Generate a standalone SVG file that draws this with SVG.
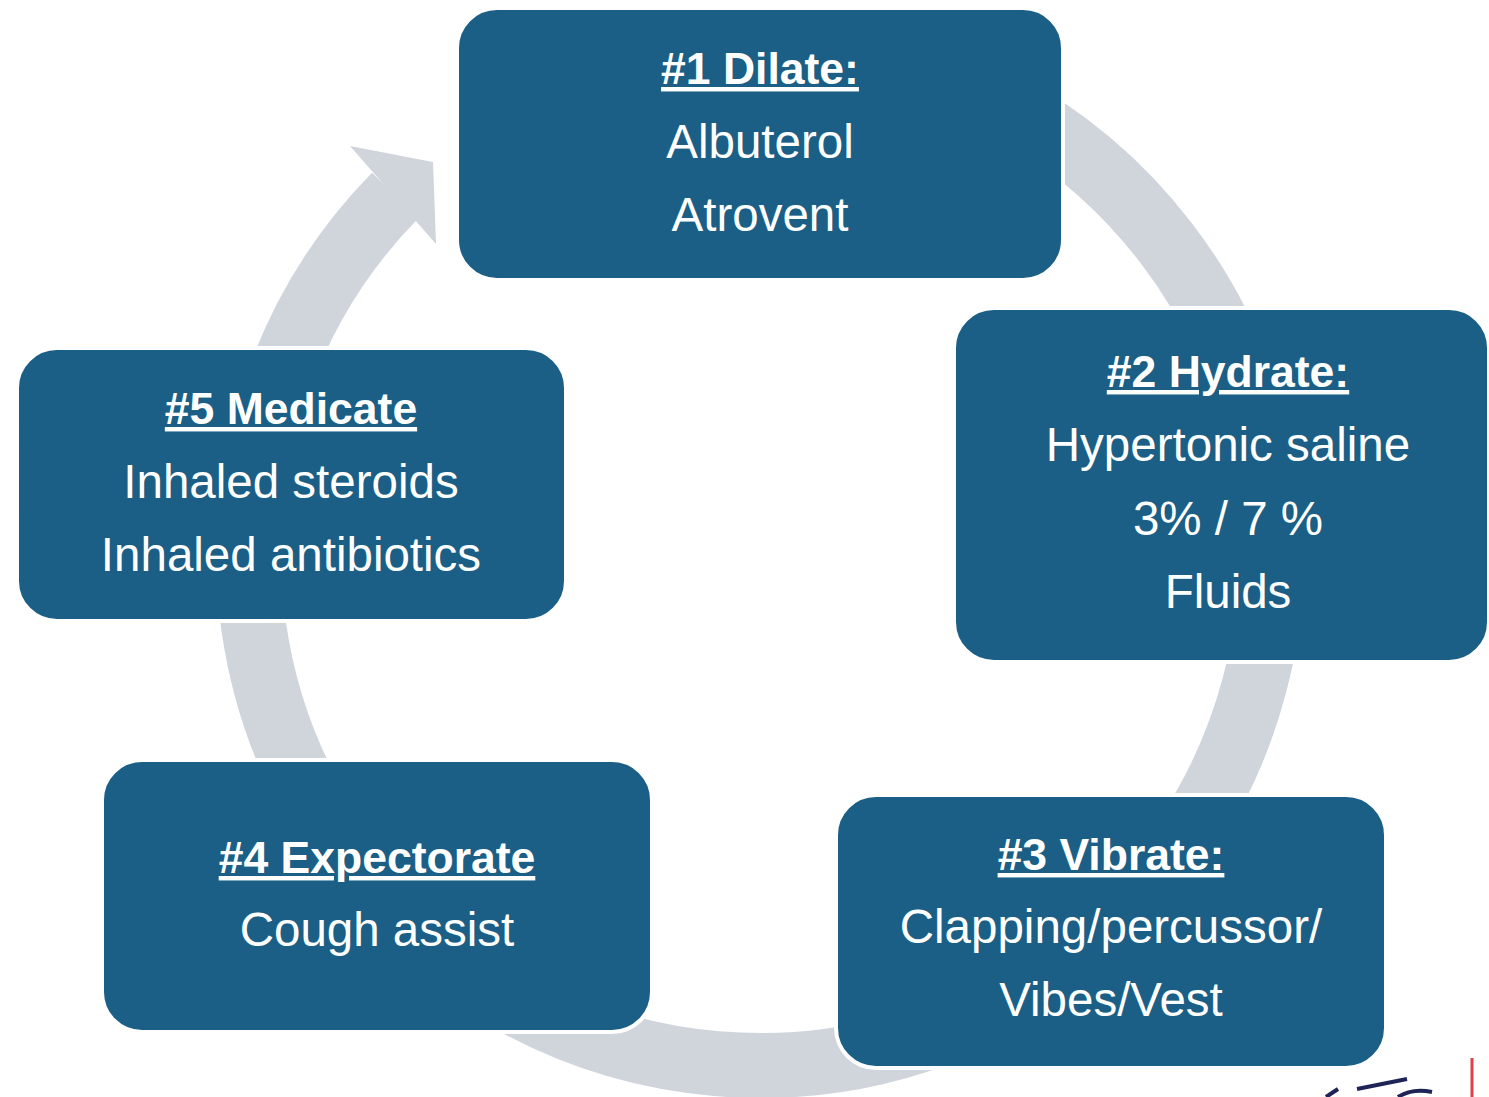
<svg xmlns="http://www.w3.org/2000/svg" width="1489" height="1097" viewBox="0 0 1489 1097">
<style>
.box{fill:#1B5F86;stroke:#FFFFFF;stroke-width:4}
.ttl{font-family:"Liberation Sans",Arial,sans-serif;font-weight:bold;font-size:44.5px;fill:#FFFFFF;text-anchor:middle;text-decoration:underline}
.txt{font-family:"Liberation Sans",Arial,sans-serif;font-size:47.5px;fill:#FFFFFF;text-anchor:middle}
.ring{fill:none;stroke:#D0D5DC;stroke-width:65}
</style>
<rect width="1489" height="1097" fill="#FFFFFF"/>
<g id="connectors">
<path class="ring" d="M395.2,195.5 A511.5,511.5 0 1 0 760,42.5"/>
<polygon points="350,146 433,162 436,244" fill="#D0D5DC"/>
</g>
<g id="node1">
<rect class="box" x="457" y="8" width="606" height="272" rx="40"/>
<text class="ttl" x="760" y="84">#1 Dilate:</text>
<text class="txt" x="760" y="158">Albuterol</text>
<text class="txt" x="760" y="231">Atrovent</text>
</g>
<g id="node2">
<rect class="box" x="954" y="308" width="535" height="354" rx="40"/>
<text class="ttl" x="1228" y="387">#2 Hydrate:</text>
<text class="txt" x="1228" y="461">Hypertonic saline</text>
<text class="txt" x="1228" y="535">3% / 7 %</text>
<text class="txt" x="1228" y="608">Fluids</text>
</g>
<g id="node3">
<rect class="box" x="836" y="795" width="550" height="273" rx="40"/>
<text class="ttl" x="1111" y="870">#3 Vibrate:</text>
<text class="txt" x="1111" y="943">Clapping/percussor/</text>
<text class="txt" x="1111" y="1016">Vibes/Vest</text>
</g>
<g id="node4">
<rect class="box" x="102" y="760" width="550" height="272" rx="40"/>
<text class="ttl" x="377" y="873">#4 Expectorate</text>
<text class="txt" x="377" y="946">Cough assist</text>
</g>
<g id="node5">
<rect class="box" x="17" y="348" width="549" height="273" rx="40"/>
<text class="ttl" x="291" y="424">#5 Medicate</text>
<text class="txt" x="291" y="498">Inhaled steroids</text>
<text class="txt" x="291" y="571">Inhaled antibiotics</text>
</g>
<g id="logo-fragment">
<path d="M1326,1097 L1338,1089" stroke="#1F2457" stroke-width="4" fill="none"/>
<path d="M1357,1089 L1407,1079" stroke="#1F2457" stroke-width="4" fill="none"/>
<path d="M1398,1097 Q1412,1088 1432,1092" stroke="#1F2457" stroke-width="4" fill="none"/>
<line x1="1472" y1="1058" x2="1472" y2="1097" stroke="#E0404A" stroke-width="3"/>
</g>
</svg>
